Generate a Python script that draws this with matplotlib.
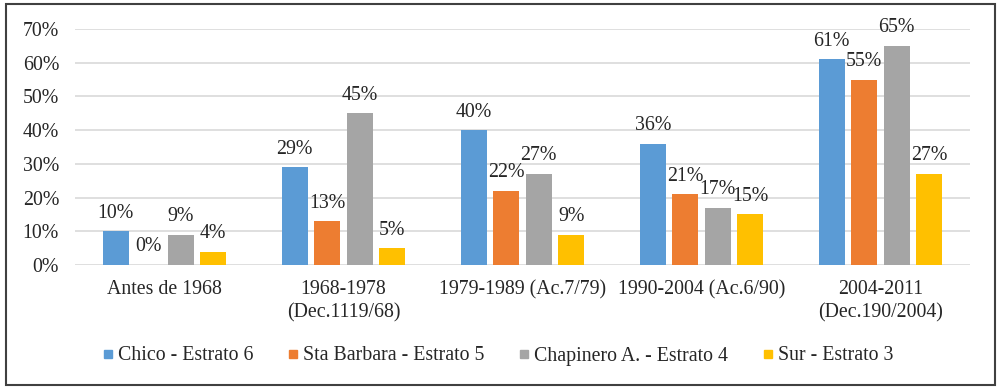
import matplotlib
matplotlib.use('Agg')
import matplotlib.pyplot as plt
from matplotlib.lines import Line2D
from matplotlib.patches import Rectangle
import numpy as np

plt.rcParams['font.family'] = ['Liberation Serif', 'DejaVu Serif']

categories = ['Antes de 1968', '1968-1978\n(Dec.1119/68)', '1979-1989 (Ac.7/79)',
              '1990-2004 (Ac.6/90)', '2004-2011\n(Dec.190/2004)']
series_names = ['Chico - Estrato 6', 'Sta Barbara - Estrato 5',
                'Chapinero A. - Estrato 4', 'Sur - Estrato 3']
chico = [10, 29, 40, 36, 61]
sta_barbara = [0, 13, 22, 21, 55]
chapinero = [9, 45, 27, 17, 65]
sur = [4, 5, 9, 15, 27]
colors = ['#5B9BD5', '#ED7D31', '#A5A5A5', '#FFC000']
yticks = [0, 10, 20, 30, 40, 50, 60, 70]

fs = 14.3
fig = plt.figure(figsize=(10.08, 3.91), dpi=100)
ax = fig.add_axes([75 / 1008, 126 / 391, 895 / 1008, 236 / 391])

x = np.arange(len(categories))
pitch = 0.1816
width = 0.145
for i, vals in enumerate([chico, sta_barbara, chapinero, sur]):
    pos = x + (i - 1.5) * pitch
    ax.bar(pos, vals, width, color=colors[i], zorder=3)
    for px, v in zip(pos, vals):
        ax.annotate(f'{v}%', (px, v), xytext=(0, 13), textcoords='offset points',
                    ha='center', va='center', fontsize=fs, color='#262626')

ax.set_xlim(-0.5, 4.5)
ax.set_ylim(0, 70)
ax.set_yticks(yticks)
ax.set_yticklabels([f'{t}%' for t in yticks], fontsize=fs, color='#262626')
ax.set_xticks(x)
ax.set_xticklabels(categories, fontsize=fs, color='#262626', linespacing=1.25)
ax.tick_params(axis='y', length=0, pad=11.5)
ax.tick_params(axis='x', length=0, pad=11)
ax.yaxis.grid(True, color='#D9D9D9', linewidth=1.2, zorder=0)
for s in ax.spines.values():
    s.set_visible(False)

# legend with small square keys, below the categories
handles = [Line2D([], [], linestyle='none', marker='s', markersize=5.8,
                  markerfacecolor=c, markeredgecolor=c) for c in colors]
leg = ax.legend(handles, series_names, loc='center left',
                bbox_to_anchor=(93 / 1008, 1 - 356 / 391), bbox_transform=fig.transFigure,
                ncol=4, frameon=False, fontsize=fs,
                handlelength=0.5, handletextpad=0.25, columnspacing=1.75, borderpad=0)
for t in leg.get_texts():
    t.set_fontfamily('Liberation Serif')
    t.set_color('#262626')

fig.patches.append(Rectangle((6 / 1008, 6 / 391), 989 / 1008, 381 / 391, transform=fig.transFigure,
                             fill=False, edgecolor='#404040', linewidth=1.5))

fig.savefig('out.png', dpi=100)
